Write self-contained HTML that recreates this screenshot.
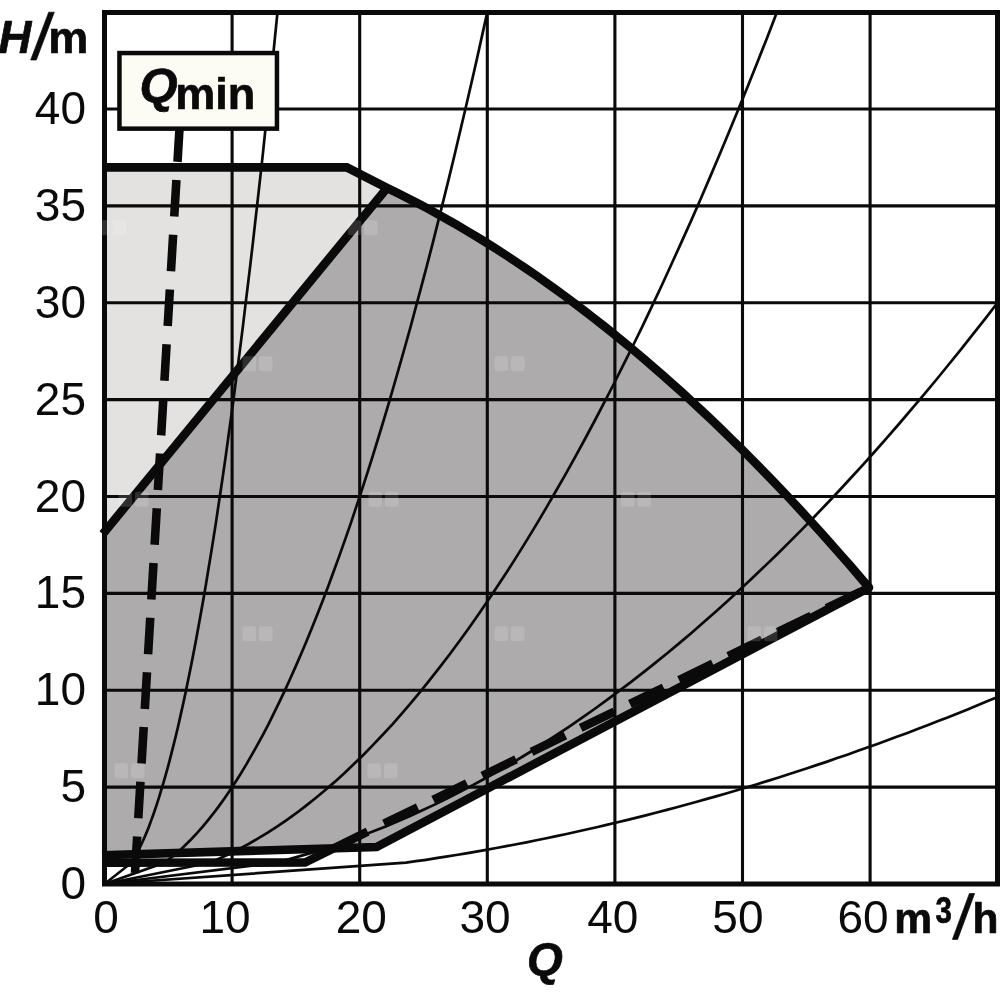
<!DOCTYPE html>
<html><head><meta charset="utf-8"><title>Pump curve</title>
<style>
html,body{margin:0;padding:0;background:#fff;}
body{width:1000px;height:1000px;overflow:hidden;}
svg{display:block;}
text{font-family:"Liberation Sans",sans-serif;fill:#0a0a0a;}
</style></head><body>
<svg width="1000" height="1000" viewBox="0 0 1000 1000">
<rect width="1000" height="1000" fill="#fff"/>
<path d="M104.5,167.4 L346.8,167.4 L387,187.9 L104.5,531.9 Z" fill="#e3e2e1"/>
<path d="M104.5,531.9 L387,187.9 L387.9,188.4 L397.7,193.2 L407.5,198.1 L417.4,203.1 L427.2,208.3 L437.0,213.7 L446.8,219.2 L456.6,224.8 L466.4,230.6 L476.3,236.5 L486.1,242.5 L495.9,248.7 L505.7,255.0 L515.5,261.5 L525.4,268.1 L535.2,274.8 L545.0,281.7 L554.8,288.7 L564.6,295.9 L574.4,303.2 L584.3,310.7 L594.1,318.3 L603.9,326.0 L613.7,333.9 L623.5,341.9 L633.4,350.0 L643.2,358.3 L653.0,366.7 L662.8,375.3 L672.6,384.0 L682.5,392.8 L692.3,401.8 L702.1,411.0 L711.9,420.2 L721.7,429.6 L731.5,439.2 L741.4,448.9 L751.2,458.7 L761.0,468.7 L770.8,478.8 L780.6,489.0 L790.5,499.4 L800.3,510.0 L810.1,520.6 L819.9,531.4 L829.7,542.4 L839.5,553.5 L849.4,564.7 L859.2,576.1 L869.0,587.6 L376.6,847 L104.5,855.3 Z" fill="#adabab"/>
<g stroke="#0a0a0a" stroke-width="3.1" fill="none">
<line x1="232.1" y1="12.5" x2="232.1" y2="884"/><line x1="359.7" y1="12.5" x2="359.7" y2="884"/><line x1="487.3" y1="12.5" x2="487.3" y2="884"/><line x1="614.9" y1="12.5" x2="614.9" y2="884"/><line x1="742.5" y1="12.5" x2="742.5" y2="884"/><line x1="870.1" y1="12.5" x2="870.1" y2="884"/><line x1="104.5" y1="787.1" x2="997.5" y2="787.1"/><line x1="104.5" y1="690.2" x2="997.5" y2="690.2"/><line x1="104.5" y1="593.4" x2="997.5" y2="593.4"/><line x1="104.5" y1="496.5" x2="997.5" y2="496.5"/><line x1="104.5" y1="399.6" x2="997.5" y2="399.6"/><line x1="104.5" y1="302.8" x2="997.5" y2="302.8"/><line x1="104.5" y1="205.9" x2="997.5" y2="205.9"/><line x1="104.5" y1="109.0" x2="997.5" y2="109.0"/>
</g>
<g stroke="#0a0a0a" stroke-width="2.7" fill="none">
<path d="M104.5,884.0 L131.5,862.7 L134.0,858.6 L136.5,854.2 L139.0,849.4 L141.4,844.2 L143.9,838.7 L146.4,832.9 L148.9,826.7 L151.3,820.1 L153.8,813.2 L156.3,805.9 L158.8,798.2 L161.2,790.2 L163.7,781.9 L166.2,773.2 L168.7,764.1 L171.1,754.7 L173.6,744.9 L176.1,734.8 L178.6,724.3 L181.0,713.4 L183.5,702.2 L186.0,690.6 L188.4,678.7 L190.9,666.4 L193.4,653.8 L195.9,640.8 L198.3,627.5 L200.8,613.8 L203.3,599.7 L205.8,585.3 L208.2,570.5 L210.7,555.4 L213.2,539.9 L215.7,524.1 L218.1,507.9 L220.6,491.3 L223.1,474.4 L225.6,457.1 L228.0,439.5 L230.5,421.5 L233.0,403.2 L235.4,384.5 L237.9,365.4 L240.4,346.0 L242.9,326.3 L245.3,306.1 L247.8,285.7 L250.3,264.8 L252.8,243.6 L255.2,222.1 L257.7,200.2 L260.2,177.9 L262.7,155.3 L265.1,132.3 L267.6,109.0 L270.1,85.3 L272.6,61.3 L275.0,36.9 L277.5,12.1"/><path d="M104.5,884.0 L164.3,862.7 L169.8,858.6 L175.3,854.2 L180.8,849.4 L186.2,844.2 L191.7,838.7 L197.2,832.9 L202.7,826.7 L208.1,820.1 L213.6,813.2 L219.1,805.9 L224.6,798.2 L230.0,790.2 L235.5,781.9 L241.0,773.2 L246.5,764.1 L251.9,754.7 L257.4,744.9 L262.9,734.8 L268.4,724.3 L273.8,713.4 L279.3,702.2 L284.8,690.6 L290.2,678.7 L295.7,666.4 L301.2,653.8 L306.7,640.8 L312.1,627.5 L317.6,613.8 L323.1,599.7 L328.6,585.3 L334.0,570.5 L339.5,555.4 L345.0,539.9 L350.5,524.1 L355.9,507.9 L361.4,491.3 L366.9,474.4 L372.4,457.1 L377.8,439.5 L383.3,421.5 L388.8,403.2 L394.2,384.5 L399.7,365.4 L405.2,346.0 L410.7,326.3 L416.1,306.1 L421.6,285.7 L427.1,264.8 L432.6,243.6 L438.0,222.1 L443.5,200.2 L449.0,177.9 L454.5,155.3 L459.9,132.3 L465.4,109.0 L470.9,85.3 L476.4,61.3 L481.8,36.9 L487.3,12.1"/><path d="M104.5,884.0 L209.6,862.7 L219.3,858.6 L228.9,854.2 L238.5,849.4 L248.1,844.2 L257.7,838.7 L267.3,832.9 L277.0,826.7 L286.6,820.1 L296.2,813.2 L305.8,805.9 L315.4,798.2 L325.0,790.2 L334.7,781.9 L344.3,773.2 L353.9,764.1 L363.5,754.7 L373.1,744.9 L382.7,734.8 L392.4,724.3 L402.0,713.4 L411.6,702.2 L421.2,690.6 L430.8,678.7 L440.4,666.4 L450.1,653.8 L459.7,640.8 L469.3,627.5 L478.9,613.8 L488.5,599.7 L498.1,585.3 L507.8,570.5 L517.4,555.4 L527.0,539.9 L536.6,524.1 L546.2,507.9 L555.8,491.3 L565.5,474.4 L575.1,457.1 L584.7,439.5 L594.3,421.5 L603.9,403.2 L613.5,384.5 L623.1,365.4 L632.8,346.0 L642.4,326.3 L652.0,306.1 L661.6,285.7 L671.2,264.8 L680.8,243.6 L690.5,222.1 L700.1,200.2 L709.7,177.9 L719.3,155.3 L728.9,132.3 L738.5,109.0 L748.2,85.3 L757.8,61.3 L767.4,36.9 L777.0,12.1"/><path d="M104.5,884.0 L275.5,862.7 L287.7,859.5 L300.0,856.1 L312.2,852.6 L324.5,848.7 L336.7,844.7 L348.9,840.4 L361.2,836.0 L373.4,831.3 L385.7,826.4 L397.9,821.3 L410.1,815.9 L422.4,810.3 L434.6,804.6 L446.9,798.6 L459.1,792.3 L471.4,785.9 L483.6,779.3 L495.8,772.4 L508.1,765.3 L520.3,758.0 L532.6,750.5 L544.8,742.7 L557.0,734.7 L569.3,726.6 L581.5,718.2 L593.8,709.5 L606.0,700.7 L618.2,691.6 L630.5,682.4 L642.7,672.9 L655.0,663.1 L667.2,653.2 L679.4,643.1 L691.7,632.7 L703.9,622.1 L716.2,611.3 L728.4,600.3 L740.6,589.0 L752.9,577.6 L765.1,565.9 L777.4,554.0 L789.6,541.9 L801.8,529.6 L814.1,517.0 L826.3,504.2 L838.6,491.2 L850.8,478.0 L863.1,464.6 L875.3,451.0 L887.5,437.1 L899.8,423.0 L912.0,408.7 L924.3,394.2 L936.5,379.5 L948.7,364.5 L961.0,349.3 L973.2,333.9 L985.5,318.3 L997.7,302.5"/><path d="M104.5,884.0 L406.0,862.7 L416.0,861.2 L426.1,859.8 L436.1,858.2 L446.1,856.6 L456.2,855.0 L466.2,853.3 L476.2,851.6 L486.2,849.8 L496.3,848.0 L506.3,846.2 L516.3,844.2 L526.4,842.3 L536.4,840.3 L546.4,838.2 L556.4,836.1 L566.5,834.0 L576.5,831.8 L586.5,829.5 L596.6,827.2 L606.6,824.9 L616.6,822.5 L626.6,820.1 L636.7,817.6 L646.7,815.1 L656.7,812.5 L666.8,809.9 L676.8,807.2 L686.8,804.5 L696.8,801.7 L706.9,798.9 L716.9,796.1 L726.9,793.2 L737.0,790.2 L747.0,787.2 L757.0,784.2 L767.0,781.1 L777.1,778.0 L787.1,774.8 L797.1,771.5 L807.2,768.3 L817.2,764.9 L827.2,761.6 L837.2,758.1 L847.3,754.7 L857.3,751.1 L867.3,747.6 L877.4,744.0 L887.4,740.3 L897.4,736.6 L907.4,732.9 L917.5,729.1 L927.5,725.2 L937.5,721.3 L947.6,717.4 L957.6,713.4 L967.6,709.4 L977.6,705.3 L987.7,701.1 L997.7,697.0"/>
</g>
<g stroke="#0a0a0a" stroke-width="8.6" fill="none" stroke-linejoin="round">
<path d="M102,167.4 L346.8,167.4 L387.9,188.4 L397.7,193.2 L407.5,198.1 L417.4,203.1 L427.2,208.3 L437.0,213.7 L446.8,219.2 L456.6,224.8 L466.4,230.6 L476.3,236.5 L486.1,242.5 L495.9,248.7 L505.7,255.0 L515.5,261.5 L525.4,268.1 L535.2,274.8 L545.0,281.7 L554.8,288.7 L564.6,295.9 L574.4,303.2 L584.3,310.7 L594.1,318.3 L603.9,326.0 L613.7,333.9 L623.5,341.9 L633.4,350.0 L643.2,358.3 L653.0,366.7 L662.8,375.3 L672.6,384.0 L682.5,392.8 L692.3,401.8 L702.1,411.0 L711.9,420.2 L721.7,429.6 L731.5,439.2 L741.4,448.9 L751.2,458.7 L761.0,468.7 L770.8,478.8 L780.6,489.0 L790.5,499.4 L800.3,510.0 L810.1,520.6 L819.9,531.4 L829.7,542.4 L839.5,553.5 L849.4,564.7 L859.2,576.1 L869.0,587.6" stroke-linejoin="miter"/>
<path d="M869,587.6 L376.6,847 L102,855.3" stroke-linejoin="miter"/>
<path d="M102.8,534.0 L387,187.9"/>
<path d="M102,862.8 L305,862.5 L367.6,831.7" stroke-linejoin="miter"/>
<path d="M384,823.7 L869,587.6" stroke-dasharray="37.5 17.2"/>
<path d="M135,873 L180,120" stroke-dasharray="36.6 18.2"/>
</g>
<circle cx="869" cy="587.6" r="4.3" fill="#0a0a0a"/>
<rect x="104.5" y="12.5" width="893" height="871.5" fill="none" stroke="#0a0a0a" stroke-width="5"/>
<rect x="119.45" y="53.05" width="157.5" height="75.6" fill="#fdfcf4" stroke="#0a0a0a" stroke-width="4.5"/>
<g style="will-change:opacity" opacity="0.999"><g font-size="46">
<text x="86" y="802.1" text-anchor="end">5</text><text x="86" y="705.2" text-anchor="end">10</text><text x="86" y="608.4" text-anchor="end">15</text><text x="86" y="511.5" text-anchor="end">20</text><text x="86" y="414.6" text-anchor="end">25</text><text x="86" y="317.8" text-anchor="end">30</text><text x="86" y="220.9" text-anchor="end">35</text><text x="86" y="124.0" text-anchor="end">40</text><text x="86" y="899.0" text-anchor="end">0</text>
<text x="106" y="933" text-anchor="middle">0</text><text x="225" y="933" text-anchor="middle">10</text><text x="361.3" y="933" text-anchor="middle">20</text><text x="485" y="933" text-anchor="middle">30</text><text x="612.8" y="933" text-anchor="middle">40</text><text x="737.9" y="933" text-anchor="middle">50</text><text x="863" y="933" text-anchor="middle">60</text>
</g>
<g font-weight="bold" stroke="#0a0a0a" stroke-width="0.7" stroke-linejoin="round">
<text x="-1.5" y="52.5" font-size="45.5" font-style="italic">H</text>
<polygon points="48.7,12.2 54.3,12.2 36.3,60 30.7,60" fill="#0a0a0a"/>
<text x="48.3" y="52.5" font-size="45">m</text>
<text x="139.6" y="101.8" font-size="49" font-style="italic">Q</text>
<text x="175.2" y="109.3" font-size="45">min</text>
<text x="545" y="975" text-anchor="middle" font-size="46" font-style="italic">Q</text>
<text x="894.2" y="932.6" font-size="42.5">m</text>
<text x="935.4" y="923.3" font-size="36" textLength="16.4" lengthAdjust="spacingAndGlyphs">3</text>
<polygon points="969.4,893.5 974.6,893.5 957.6,939.4 952.4,939.4" fill="#0a0a0a"/>
<text x="972.4" y="932.6" font-size="42.5">h</text>
</g></g>
<g fill="#fff" opacity="0.15"><rect x="96.0" y="220.3" width="13.5" height="15" rx="2.5"/><rect x="112.5" y="220.3" width="13.5" height="15" rx="2.5"/><rect x="347.7" y="220.3" width="13.5" height="15" rx="2.5"/><rect x="364.2" y="220.3" width="13.5" height="15" rx="2.5"/><rect x="242.5" y="356.3" width="13.5" height="15" rx="2.5"/><rect x="259" y="356.3" width="13.5" height="15" rx="2.5"/><rect x="494.5" y="356.3" width="13.5" height="15" rx="2.5"/><rect x="511" y="356.3" width="13.5" height="15" rx="2.5"/><rect x="118.5" y="491.8" width="13.5" height="15" rx="2.5"/><rect x="135" y="491.8" width="13.5" height="15" rx="2.5"/><rect x="368.5" y="491.8" width="13.5" height="15" rx="2.5"/><rect x="385" y="491.8" width="13.5" height="15" rx="2.5"/><rect x="621.0" y="491.8" width="13.5" height="15" rx="2.5"/><rect x="637.5" y="491.8" width="13.5" height="15" rx="2.5"/><rect x="242.5" y="626.3" width="13.5" height="15" rx="2.5"/><rect x="259" y="626.3" width="13.5" height="15" rx="2.5"/><rect x="494.5" y="626.3" width="13.5" height="15" rx="2.5"/><rect x="511" y="626.3" width="13.5" height="15" rx="2.5"/><rect x="747.5" y="626.3" width="13.5" height="15" rx="2.5"/><rect x="764" y="626.3" width="13.5" height="15" rx="2.5"/><rect x="114.5" y="763.3" width="13.5" height="15" rx="2.5"/><rect x="131" y="763.3" width="13.5" height="15" rx="2.5"/><rect x="367.5" y="763.3" width="13.5" height="15" rx="2.5"/><rect x="384" y="763.3" width="13.5" height="15" rx="2.5"/></g>
</svg>
</body></html>
